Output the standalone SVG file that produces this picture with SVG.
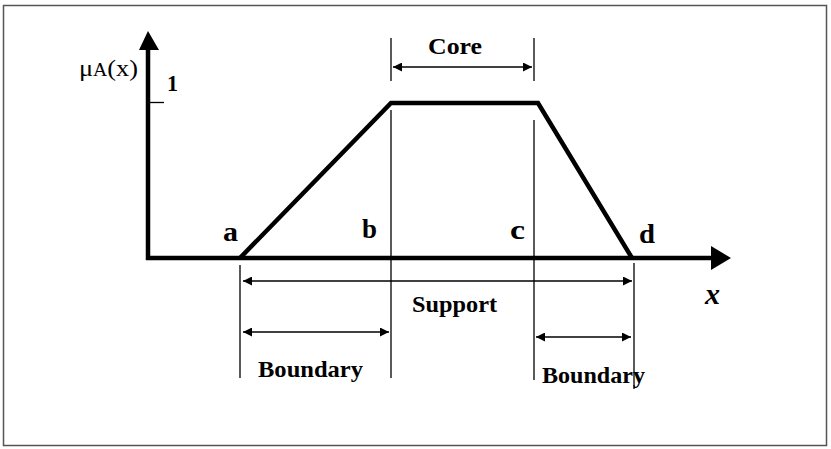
<svg xmlns="http://www.w3.org/2000/svg" width="831" height="449" viewBox="0 0 831 449">
<defs>
<marker id="ah" viewBox="0 0 10 10" refX="10" refY="5" markerWidth="9" markerHeight="9" markerUnits="userSpaceOnUse" orient="auto-start-reverse">
<path d="M0,0 L10,5 L0,10 Z" fill="#000"/>
</marker>
<style>
.t{font-family:"Liberation Serif","Times New Roman","DejaVu Serif",serif;font-weight:bold;font-size:24px;fill:#000}
.l{font-size:27px}
.xi{font-size:30px;font-style:italic}
.thin{stroke:#000;stroke-width:1.3;fill:none}
.dim{stroke:#000;stroke-width:1.6;fill:none}
.thick{stroke:#000;stroke-width:4.5;fill:none}
</style>
</defs>
<rect x="0" y="0" width="831" height="449" fill="#fff"/>
<rect x="3.5" y="5.5" width="823" height="440" fill="none" stroke="#555" stroke-width="1.5"/>
<g id="axes">
<line class="thick" x1="148" y1="260" x2="148" y2="48"/>
<path d="M139,50 L148,31 L159,50 Z" fill="#000"/>
<line class="thick" x1="146" y1="258" x2="713" y2="258"/>
<path d="M711,246 L731,258 L711,270 Z" fill="#000"/>
<line class="thin" x1="148" y1="102.5" x2="164" y2="102.5"/>
</g>
<g id="curve">
<polyline class="thick" points="240,258 391,103 538,103 632,258" stroke-linejoin="miter"/>
</g>
<g id="connectors">
<line class="thin" x1="391" y1="38" x2="391" y2="81"/>
<line class="thin" x1="534" y1="38" x2="534" y2="81"/>
<line class="thin" x1="391" y1="110" x2="391" y2="378"/>
<line class="thin" x1="534" y1="120" x2="534" y2="380"/>
<line class="thin" x1="240" y1="265" x2="240" y2="378"/>
<line class="thin" x1="634" y1="263" x2="634" y2="389"/>
<line class="dim" x1="393" y1="67" x2="532" y2="67" marker-start="url(#ah)" marker-end="url(#ah)"/>
<line class="dim" x1="243" y1="281" x2="632" y2="281" marker-start="url(#ah)" marker-end="url(#ah)"/>
<line class="dim" x1="243" y1="332" x2="389" y2="332" marker-start="url(#ah)" marker-end="url(#ah)"/>
<line class="dim" x1="536" y1="337" x2="631" y2="337" marker-start="url(#ah)" marker-end="url(#ah)"/>
</g>
<g id="labels">
<text class="t" x="428" y="54" textLength="54" lengthAdjust="spacingAndGlyphs">Core</text>
<text class="t" x="412" y="312" textLength="85" lengthAdjust="spacingAndGlyphs">Support</text>
<text class="t" x="258" y="377" textLength="105" lengthAdjust="spacingAndGlyphs">Boundary</text>
<text class="t" x="542" y="383" textLength="103" lengthAdjust="spacingAndGlyphs">Boundary</text>
<text class="t l" x="223" y="241" textLength="15" lengthAdjust="spacingAndGlyphs">a</text>
<text class="t l" x="362" y="238" textLength="15" lengthAdjust="spacingAndGlyphs">b</text>
<text class="t l" x="510" y="239" textLength="15" lengthAdjust="spacingAndGlyphs">c</text>
<text class="t l" x="639" y="243" textLength="16" lengthAdjust="spacingAndGlyphs">d</text>
<text class="t" x="167" y="91" textLength="11" lengthAdjust="spacingAndGlyphs">1</text>
<text class="t xi" x="705" y="304">x</text>
<text x="79" y="76" font-family="'Liberation Serif','Times New Roman','DejaVu Serif',serif" font-size="24" textLength="59" lengthAdjust="spacingAndGlyphs">μ<tspan font-size="18">A</tspan>(x)</text>
</g>
</svg>
